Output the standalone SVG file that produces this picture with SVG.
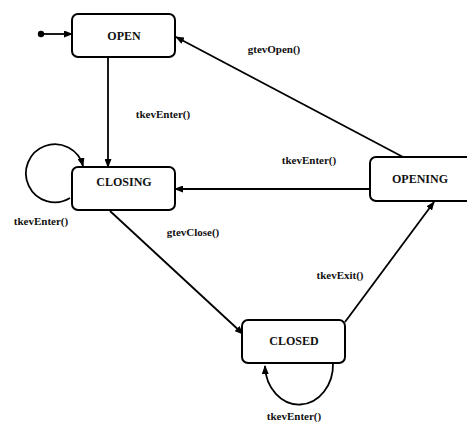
<svg xmlns="http://www.w3.org/2000/svg" width="467" height="423" viewBox="0 0 467 423">
<defs>
<style>
.box{fill:#fff;stroke:#000;stroke-width:2}
text{font-family:'Liberation Serif','Times New Roman','DejaVu Serif',serif;font-weight:bold;text-anchor:middle;fill:#111}
.st{font-size:12px}
.lb{font-size:11px}
.ln{fill:none;stroke:#000;stroke-width:1.8}
</style>
<marker id="ah" markerUnits="userSpaceOnUse" markerWidth="9" markerHeight="7" refX="8" refY="3.5" orient="auto">
<path d="M0,0 L9,3.5 L0,7 z" fill="#000"/>
</marker>
</defs>
<rect width="467" height="423" fill="#fff"/>
<g id="connectors">
<circle cx="41" cy="34" r="3.2" fill="#000"/>
<line class="ln" x1="41" y1="34" x2="72" y2="34" marker-end="url(#ah)"/>
<line class="ln" x1="108" y1="57" x2="108" y2="167" marker-end="url(#ah)"/>
<path class="ln" d="M70 198 A29 29 0 1 1 83 166" marker-end="url(#ah)"/>
<line class="ln" x1="370" y1="189" x2="175" y2="189" marker-end="url(#ah)"/>
<line class="ln" x1="403" y1="157" x2="176" y2="37" marker-end="url(#ah)"/>
<line class="ln" x1="110" y1="211" x2="243" y2="334" marker-end="url(#ah)"/>
<line class="ln" x1="345" y1="322" x2="434" y2="202" marker-end="url(#ah)"/>
<path class="ln" d="M333 363 A34 40 0 0 1 265 366" marker-end="url(#ah)"/>
<text class="lb" x="163" y="118">tkevEnter()</text>
<text class="lb" x="274" y="53">gtevOpen()</text>
<text class="lb" x="41" y="225">tkevEnter()</text>
<text class="lb" x="193" y="236">gtevClose()</text>
<text class="lb" x="309" y="164">tkevEnter()</text>
<text class="lb" x="340" y="279">tkevExit()</text>
<text class="lb" x="294" y="420">tkevEnter()</text>
</g>
<g id="open">
<rect class="box" x="72" y="14" width="103" height="43" rx="6"/>
<text class="st" x="124" y="40">OPEN</text>
</g>
<g id="closing">
<rect class="box" x="72" y="167" width="103" height="43" rx="6"/>
<text class="st" x="124" y="186">CLOSING</text>
</g>
<g id="opening">
<rect class="box" x="370" y="157" width="110" height="44" rx="6"/>
<text class="st" x="420" y="183">OPENING</text>
</g>
<g id="closed">
<rect class="box" x="242" y="320" width="103" height="43" rx="6"/>
<text class="st" x="294" y="345">CLOSED</text>
</g>
</svg>
